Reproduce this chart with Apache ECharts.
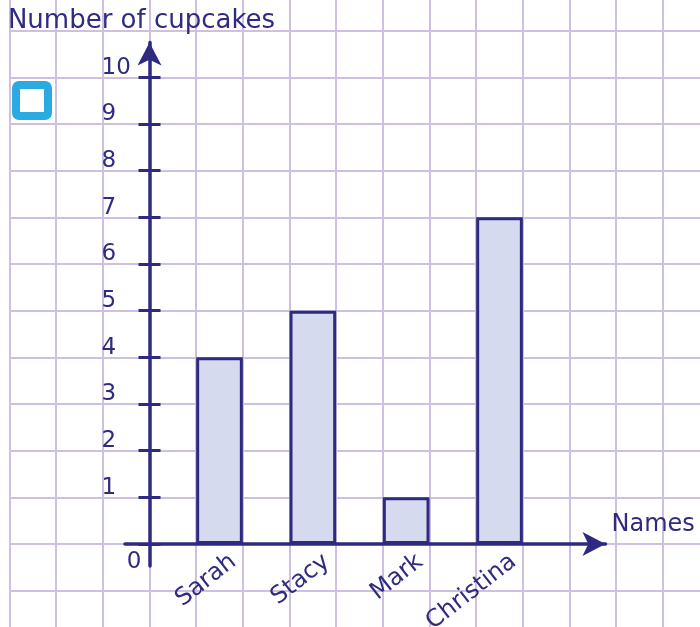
<!DOCTYPE html>
<html><head><meta charset="utf-8">
<script src="https://cdn.jsdelivr.net/npm/echarts@6/dist/echarts.min.js"></script>
<style>html,body{margin:0;padding:0;background:#fff}#c{width:700px;height:627px}</style>
</head><body><div id="c"></div>
<script>
// ---- data ----
const categories = ['Sarah', 'Stacy', 'Mark', 'Christina'];
const cupcakes = [4, 5, 1, 7];
const yMin = 0, yMax = 10, yStep = 1;
const yAxisTitle = 'Number of cupcakes';
const xAxisTitle = 'Names';

// ---- style ----
const NAVY = '#2e2a82';
const TEXT = '#2f2b80';
const GRIDC = '#cdc0e0';
const FILL = '#d5daef';
const FONT = 'DejaVu Sans';
const U = 46.67;            // px per grid cell
const X0 = 149.5, Y0 = 544; // origin in px

const chart = echarts.init(document.getElementById('c'));

const hiddenX = (g) => ({ type: 'value', gridIndex: g, show: false, min: 0, max: 1 });
const hiddenY = (g) => ({ type: 'value', gridIndex: g, show: false, min: 0, max: 1 });

const option = {
  animation: false,
  backgroundColor: '#fff',
  grid: [
    { left: X0 - 3 * U, top: Y0 - 12 * U, width: 15 * U, height: 14 * U, outerBoundsMode: 'none' },
    { left: X0 + 0.5 * U, top: Y0 - 10 * U, width: 8 * U, height: 10 * U, outerBoundsMode: 'none' },
    { left: X0, top: 42.5, width: 100, height: 566 - 42.5, outerBoundsMode: 'none' },
    { left: X0, top: Y0 - 10 * U, width: 100, height: 10 * U, outerBoundsMode: 'none' },
    { left: 125, top: 300, width: 605.5 - 125, height: Y0 - 300, outerBoundsMode: 'none' },
    { left: X0 + 0.5 * U + 14, top: Y0 - 10 * U, width: 8 * U, height: 10 * U, outerBoundsMode: 'none' }
  ],
  xAxis: [
    { type: 'value', gridIndex: 0, min: -3, max: 12, interval: 1,
      axisLine: { show: false }, axisTick: { show: false }, axisLabel: { show: false },
      splitLine: { show: true, lineStyle: { color: GRIDC, width: 2 } } },
    { type: 'category', gridIndex: 1, data: categories,
      axisLine: { show: false }, axisTick: { show: false }, axisLabel: { show: false }, splitLine: { show: false } },
    hiddenX(2),
    hiddenX(3),
    { type: 'value', gridIndex: 4, min: 0, max: 1, position: 'bottom',
      axisLine: { show: true, onZero: false, symbol: ['none', 'arrow'], symbolSize: [18, 23],
                  lineStyle: { color: NAVY, width: 3.5 } },
      axisTick: { show: false }, axisLabel: { show: false }, splitLine: { show: false },
      name: xAxisTitle, nameLocation: 'end', nameGap: 6,
      nameTextStyle: { fontFamily: FONT, fontSize: 24, color: TEXT, align: 'left',
                       verticalAlign: 'bottom', lineHeight: 26, padding: [0, 0, 6, 0] } },
    { type: 'category', gridIndex: 5, data: categories,
      axisLine: { show: false }, axisTick: { show: false }, splitLine: { show: false },
      axisLabel: { show: true, interval: 0, rotate: 38, margin: 15, fontFamily: FONT, fontSize: 24, color: TEXT } }
  ],
  yAxis: [
    { type: 'value', gridIndex: 0, min: -2, max: 12, interval: 1,
      axisLine: { show: false }, axisTick: { show: false }, axisLabel: { show: false },
      splitLine: { show: true, lineStyle: { color: GRIDC, width: 2 } } },
    { type: 'value', gridIndex: 1, min: yMin, max: yMax, interval: yStep, show: false },
    { type: 'value', gridIndex: 2, min: 0, max: 1, position: 'left',
      axisLine: { show: true, onZero: false, symbol: ['none', 'arrow'], symbolSize: [18, 23],
                  lineStyle: { color: NAVY, width: 3.5 } },
      axisTick: { show: false }, axisLabel: { show: false }, splitLine: { show: false },
      name: yAxisTitle, nameLocation: 'end', nameGap: 8,
      nameTextStyle: { fontFamily: FONT, fontSize: 26, color: TEXT, align: 'center',
                       lineHeight: 26, padding: [0, 16, 0, 0] } },
    { type: 'value', gridIndex: 3, min: yMin, max: yMax, interval: yStep, position: 'left',
      axisLine: { show: false },
      axisTick: { show: true, inside: false, length: 11, lineStyle: { color: NAVY, width: 3 } },
      axisLabel: { show: true, margin: 48, align: 'left', verticalAlign: 'bottom', lineHeight: 19,
                   fontFamily: FONT, fontSize: 23, color: TEXT,
                   formatter: (v) => (v === yMin ? '' : String(v)) },
      splitLine: { show: false } },
    { type: 'value', gridIndex: 3, min: yMin, max: yMax, interval: yStep, position: 'left',
      axisLine: { show: false },
      axisTick: { show: true, inside: true, length: 11, lineStyle: { color: NAVY, width: 3 } },
      axisLabel: { show: false }, splitLine: { show: false } },
    { type: 'value', gridIndex: 3, min: yMin, max: yMax, interval: yStep, position: 'left',
      axisLine: { show: false }, axisTick: { show: false }, splitLine: { show: false },
      axisLabel: { show: true, margin: 15.5, align: 'center', verticalAlign: 'top', lineHeight: 19,
                   padding: [9, 0, 0, 0], fontFamily: FONT, fontSize: 23, color: TEXT,
                   formatter: (v) => (v === yMin ? String(v) : '') } },
    hiddenY(4),
    hiddenY(5)
  ],
  series: [
    { type: 'bar', xAxisIndex: 1, yAxisIndex: 1, data: cupcakes, barWidth: '50%',
      itemStyle: { color: FILL, borderColor: NAVY, borderWidth: 3 }, z: 3 }
  ],
  graphic: [
    { type: 'rect', shape: { x: 16, y: 85, width: 32, height: 31, r: 3 },
      style: { fill: '#ffffff', stroke: '#29abe2', lineWidth: 8 }, z: 10 }
  ]
};
chart.setOption(option);
</script>
</body></html>
